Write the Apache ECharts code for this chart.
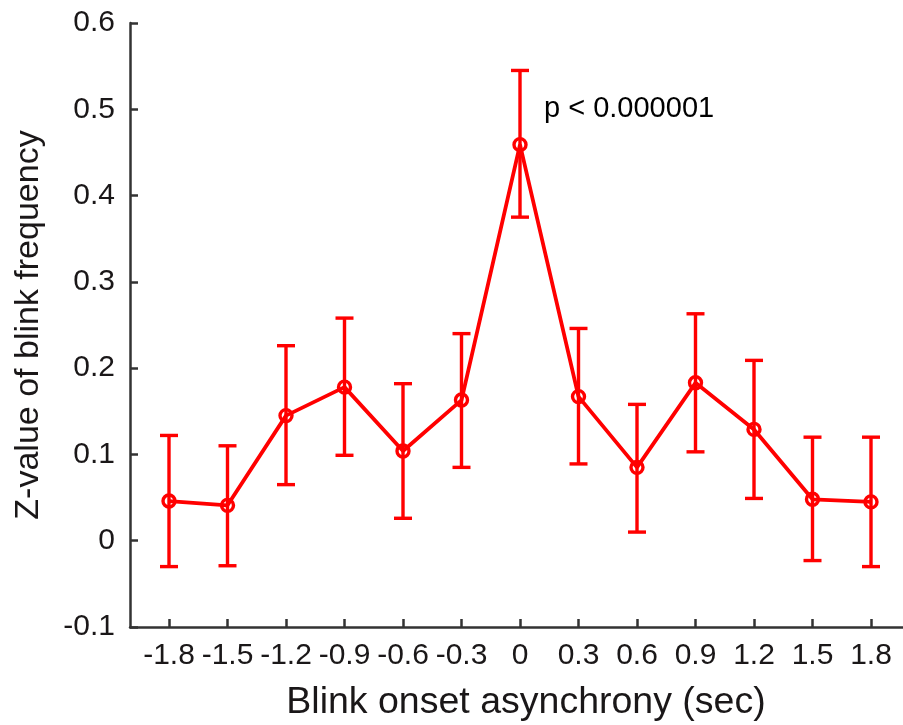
<!DOCTYPE html>
<html>
<head>
<meta charset="utf-8">
<script src="https://cdn.jsdelivr.net/npm/echarts@6/dist/echarts.min.js"></script>
<style>html,body{margin:0;padding:0;background:#fff;}#c{width:903px;height:725px;}</style>
</head>
<body>
<div id="c"></div>
<script>
var xValues = [-1.8, -1.5, -1.2, -0.9, -0.6, -0.3, 0, 0.3, 0.6, 0.9, 1.2, 1.5, 1.8];
var means   = [0.046, 0.041, 0.145, 0.178, 0.104, 0.163, 0.459, 0.167, 0.085, 0.183, 0.129, 0.048, 0.045];
var upper   = [0.122, 0.110, 0.226, 0.258, 0.182, 0.240, 0.545, 0.246, 0.158, 0.263, 0.209, 0.120, 0.120];
var lower   = [-0.030, -0.029, 0.065, 0.099, 0.026, 0.085, 0.375, 0.089, 0.010, 0.103, 0.049, -0.023, -0.030];
var xTicks  = [-1.8, -1.5, -1.2, -0.9, -0.6, -0.3, 0, 0.3, 0.6, 0.9, 1.2, 1.5, 1.8];
var annotation = [{x: 0, y: 0.5, text: 'p < 0.000001'}];

var FONT = 'Liberation Sans, Arial, Helvetica, sans-serif';
var TXT = '#1a1718';
var RED = '#ff0000';

var lineData = xValues.map(function (x, i) { return [x, means[i]]; });
var errData = xValues.map(function (x, i) { return [x, lower[i], upper[i]]; });

var chart = echarts.init(document.getElementById('c'), null, {renderer: 'canvas'});
chart.setOption({
  animation: false,
  backgroundColor: '#fff',
  grid: {left: 130, right: -7, top: 23, bottom: 98, containLabel: false, outerBoundsMode: 'none'},
  xAxis: {
    type: 'value', min: -2, max: 2,
    name: 'Blink onset asynchrony (sec)',
    nameLocation: 'middle', nameGap: 57,
    nameTextStyle: {fontFamily: FONT, fontSize: 37.5, color: TXT, padding: [0, 0, 0, 12]},
    splitLine: {show: false},
    axisLine: {onZero: false, lineStyle: {color: '#333', width: 2.5}},
    axisTick: {inside: true, length: 8, lineStyle: {color: '#333', width: 2.5}, customValues: xTicks},
    axisLabel: {customValues: xTicks, fontFamily: FONT, fontSize: 30, color: TXT, margin: 14,
      formatter: function (v) { return String(Math.round(v * 10) / 10); }}
  },
  yAxis: {
    type: 'value', min: -0.1, max: 0.6, interval: 0.1,
    name: 'Z-value of blink frequency',
    nameLocation: 'middle', nameGap: 84,
    nameTextStyle: {fontFamily: FONT, fontSize: 34, color: TXT},
    splitLine: {show: false},
    axisLine: {show: true, onZero: false, lineStyle: {color: '#333', width: 2.5}},
    axisTick: {inside: true, length: 8, lineStyle: {color: '#333', width: 2.5}},
    axisLabel: {fontFamily: FONT, fontSize: 30, color: TXT, margin: 15,
      formatter: function (v) { return String(Math.round(v * 10) / 10); }}
  },
  series: [
    {
      type: 'custom',
      data: errData,
      z: 2,
      renderItem: function (params, api) {
        var x = api.value(0);
        var lo = api.coord([x, api.value(1)]);
        var hi = api.coord([x, api.value(2)]);
        var hw = 9;
        var st = {stroke: RED, lineWidth: 3.4};
        return {
          type: 'group',
          children: [
            {type: 'line', shape: {x1: lo[0], y1: lo[1], x2: hi[0], y2: hi[1]}, style: st},
            {type: 'line', shape: {x1: hi[0] - hw, y1: hi[1], x2: hi[0] + hw, y2: hi[1]}, style: st},
            {type: 'line', shape: {x1: lo[0] - hw, y1: lo[1], x2: lo[0] + hw, y2: lo[1]}, style: st}
          ]
        };
      }
    },
    {
      type: 'line',
      data: lineData,
      z: 3,
      symbol: 'circle',
      symbolSize: 12,
      itemStyle: {color: 'rgba(255,255,255,0)', borderColor: RED, borderWidth: 3.4},
      lineStyle: {color: RED, width: 3.8}
    },
    {
      type: 'scatter',
      data: annotation.map(function (a) { return {value: [a.x, a.y], label: {formatter: a.text}}; }),
      symbolSize: 0,
      silent: true,
      label: {show: true, position: 'right', distance: 24, fontFamily: FONT, fontSize: 29,
        color: '#000', opacity: 1, textBorderWidth: 0}
    }
  ]
});
</script>
</body>
</html>
